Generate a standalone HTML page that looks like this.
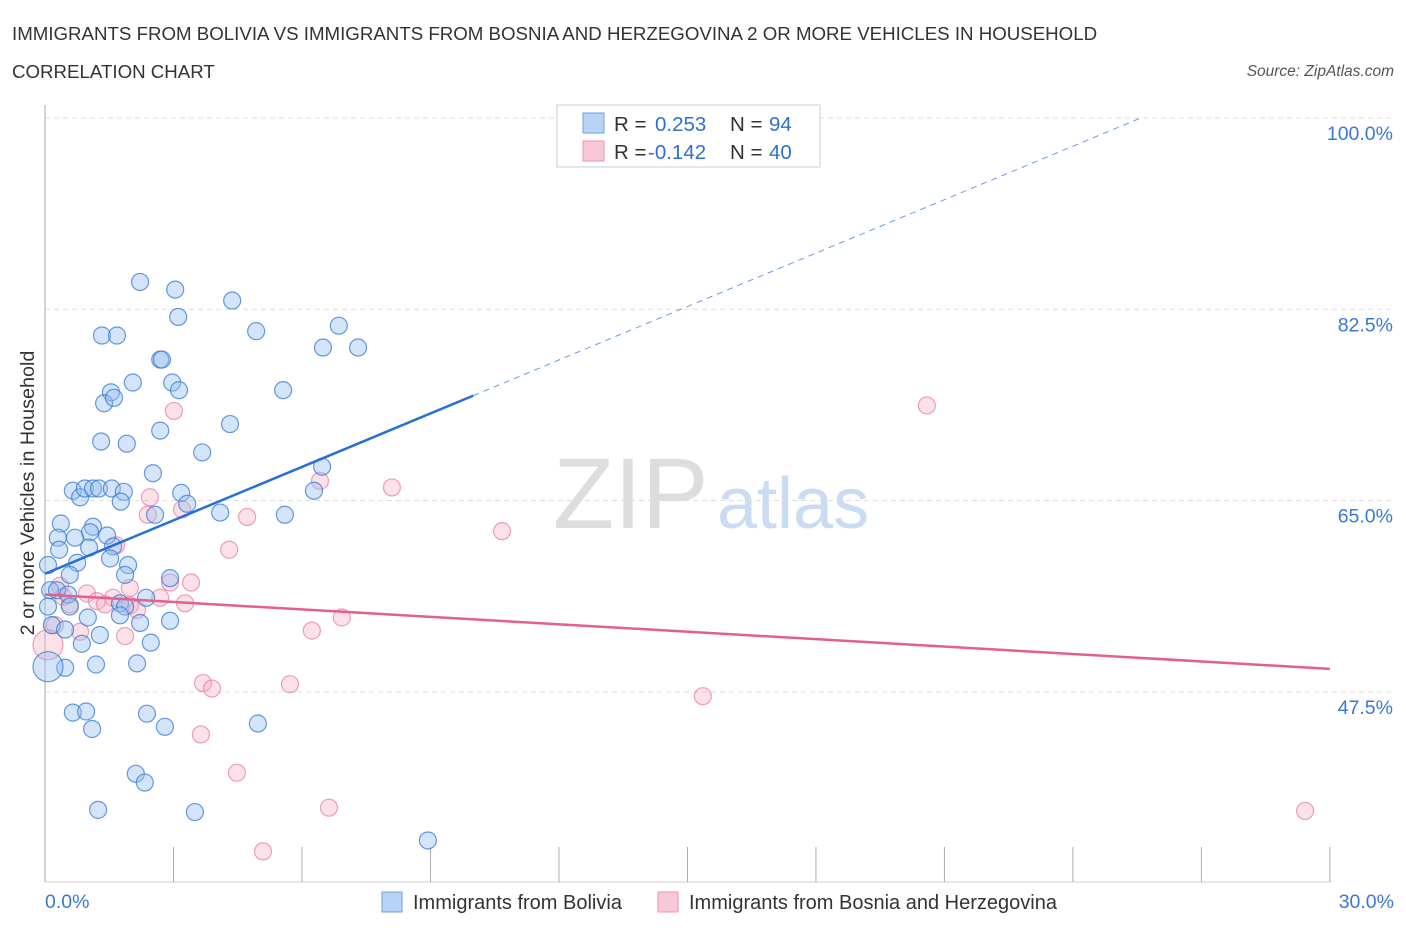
<!DOCTYPE html>
<html><head><meta charset="utf-8"><style>
body{margin:0;background:#fff;font-family:"Liberation Sans",sans-serif;}
svg text{font-family:"Liberation Sans",sans-serif;}
</style></head><body>
<svg width="1406" height="930" xmlns="http://www.w3.org/2000/svg">
<text x="12" y="40" font-size="18.7" fill="#333">IMMIGRANTS FROM BOLIVIA VS IMMIGRANTS FROM BOSNIA AND HERZEGOVINA 2 OR MORE VEHICLES IN HOUSEHOLD</text>
<text x="12" y="78" font-size="18.7" fill="#333">CORRELATION CHART</text>
<text x="1394" y="76" font-size="15.5" fill="#555" font-style="italic" text-anchor="end">Source: ZipAtlas.com</text>
<g>
<text x="553" y="528" font-size="100" fill="#ddd" font-family="Liberation Serif, serif">ZIP</text>
<text x="717" y="528" font-size="72" fill="#c9dcf3">atlas</text>
</g>
<g id="grid"></g>
<g id="axes"></g>
<g id="marks"></g>
<text transform="translate(34,493) rotate(-90)" font-size="19.8" fill="#333" text-anchor="middle">2 or more Vehicles in Household</text>
<g>
<rect x="557" y="105" width="263" height="62" fill="#fff" stroke="#ccc"/>
<rect x="583" y="113" width="21" height="20" fill="#b8d3f5" stroke="#6fa0e0"/>
<rect x="583" y="141" width="21" height="20" fill="#f9c8d6" stroke="#ec93ae"/>
<text x="614" y="131" font-size="20.5" fill="#333">R = <tspan x="655" fill="#2f6fd0">0.253</tspan><tspan x="730" fill="#333">N = </tspan><tspan x="769" fill="#2f6fd0">94</tspan></text>
<text x="614" y="159" font-size="20.5" fill="#333">R = <tspan x="648" fill="#2f6fd0">-0.142</tspan><tspan x="730" fill="#333">N = </tspan><tspan x="769" fill="#2f6fd0">40</tspan></text>
</g>
<g>
<rect x="382" y="892" width="20" height="20" fill="#b8d3f5" stroke="#6fa0e0"/>
<text x="413" y="909" font-size="20" fill="#333">Immigrants from Bolivia</text>
<rect x="658" y="892" width="20" height="20" fill="#f9c8d6" stroke="#ec93ae"/>
<text x="689" y="909" font-size="20" fill="#333">Immigrants from Bosnia and Herzegovina</text>
</g>
</svg>
<script>
const yTicks=[100,82.5,65,47.5];
const yTickLabels=["100.0%","82.5%","65.0%","47.5%"];
const xTickLabels=["0.0%","30.0%"];
const blueX=[2.22,3.04,4.37,3.11,1.33,1.68,4.93,6.86,6.49,7.31,2.69,2.73,2.05,2.97,3.13,1.54,5.56,1.38,1.61,4.32,2.69,1.31,1.91,3.67,2.52,6.47,0.65,0.82,0.93,1.12,1.26,1.56,1.84,3.18,1.77,3.32,4.09,5.60,6.28,2.57,0.37,1.12,1.05,1.45,0.30,0.70,0.33,1.59,1.03,0.07,0.75,1.52,1.94,0.58,1.87,2.92,0.12,0.28,0.54,0.07,0.58,1.75,1.87,2.36,1.75,1.00,2.22,2.92,0.16,0.47,0.86,2.47,1.28,1.19,0.47,2.15,0.65,0.96,1.10,2.38,2.80,4.97,2.12,2.33,1.24,3.50,8.94,0.07];
const blueY=[85.0,84.3,83.3,81.8,80.1,80.1,80.5,81.0,79.0,79.0,77.9,77.9,75.8,75.8,75.1,74.9,75.1,73.9,74.4,72.0,71.4,70.4,70.2,69.4,67.5,68.1,65.9,65.3,66.1,66.1,66.1,66.1,65.8,65.7,64.9,64.7,63.9,63.7,65.9,63.7,62.9,62.6,62.1,61.8,61.6,61.6,60.5,60.8,60.7,59.1,59.3,59.7,59.1,58.2,58.2,57.9,56.8,56.8,56.4,55.3,55.3,55.6,55.3,56.1,54.5,54.3,53.8,54.0,53.6,53.2,51.9,52.0,52.7,50.0,49.7,50.1,45.6,45.7,44.1,45.5,44.3,44.6,40.0,39.2,36.7,36.5,33.9,49.8];
const pinkX=[3.01,20.59,6.42,8.10,2.45,3.20,2.40,4.72,10.67,1.66,4.30,0.35,1.98,2.92,3.41,0.98,1.21,1.59,1.40,1.98,2.69,3.27,0.58,0.42,2.15,0.23,0.82,1.87,6.23,6.93,3.69,3.90,5.72,15.36,3.64,4.48,6.63,5.09,29.42,0.07];
const pinkY=[73.2,73.7,66.8,66.2,65.3,64.2,63.7,63.5,62.2,60.9,60.5,57.2,57.0,57.5,57.5,56.5,55.8,56.1,55.5,55.4,56.1,55.6,55.5,56.2,55.0,53.6,53.0,52.6,53.1,54.3,48.3,47.8,48.2,47.1,43.6,40.1,36.9,32.9,36.6,51.8];
const blueTrend=[58.3,74.6];
const pinkTrend=[56.4,49.6];
const X=v=>45+v*42.83, Y=v=>118+(100-v)*10.93;
const NS="http://www.w3.org/2000/svg";
function mk(t,a,p){const e=document.createElementNS(NS,t);for(const k in a)e.setAttribute(k,a[k]);p.appendChild(e);return e;}
const grid=document.getElementById('grid'),axes=document.getElementById('axes'),marks=document.getElementById('marks');
yTicks.forEach((v,i)=>{
 const l=mk('line',{x1:45,x2:1395,y1:Y(v),y2:Y(v),stroke:'#ddd','stroke-dasharray':'5,4'},grid);
 
 
 const t=mk('text',{x:1393,y:Y(v)+22,'font-size':19.5,fill:'#3a78d8','text-anchor':'end'},axes);
 t.textContent=yTickLabels[i];
 
 
});
let a=mk('line',{x1:45,x2:45,y1:105,y2:882,stroke:'#aaa'},axes);


a=mk('line',{x1:45,x2:1330,y1:882,y2:882,stroke:'#ccc'},axes);


for(let i=0;i<=10;i++){
 const tk=mk('line',{x1:X(i*3),x2:X(i*3),y1:847,y2:882,stroke:'#aaa'},axes);
 
 
}
[[0,'start',45],[30,'end',1394]].forEach((d,i)=>{
 const t=mk('text',{x:d[2],y:908,'font-size':19.5,fill:'#3a78d8','text-anchor':d[1]},axes);
 t.textContent=xTickLabels[i];
 
 
});
function pts(xs,ys,fill,stroke,name){
 xs.forEach((x,i)=>{
  const big=(i===xs.length-1);
  const c=mk('circle',{cx:X(x),cy:Y(ys[i]),r:big?15:8.5,fill:fill,stroke:stroke,'stroke-width':1.2},marks);
  
  
 });
}
pts(pinkX,pinkY,'rgba(246,168,192,0.35)','rgba(232,120,155,0.7)','point-bosnia');
pts(blueX,blueY,'rgba(150,190,240,0.4)','rgba(50,120,215,0.75)','point-bolivia');
let tl=mk('line',{x1:X(0),y1:Y(blueTrend[0]),x2:X(10),y2:Y(blueTrend[1]),stroke:'#2470d8','stroke-width':2.5},marks);


const slope=(blueTrend[1]-blueTrend[0])/10, xEnd=(100-blueTrend[0])/slope;
tl=mk('line',{x1:X(10),y1:Y(blueTrend[1]),x2:X(xEnd),y2:Y(100),stroke:'#6a9be0','stroke-width':1,'stroke-dasharray':'6,5'},marks);


tl=mk('line',{x1:X(0),y1:Y(pinkTrend[0]),x2:X(30),y2:Y(pinkTrend[1]),stroke:'#e4608a','stroke-width':2.5},marks);


</script>
</body></html>
